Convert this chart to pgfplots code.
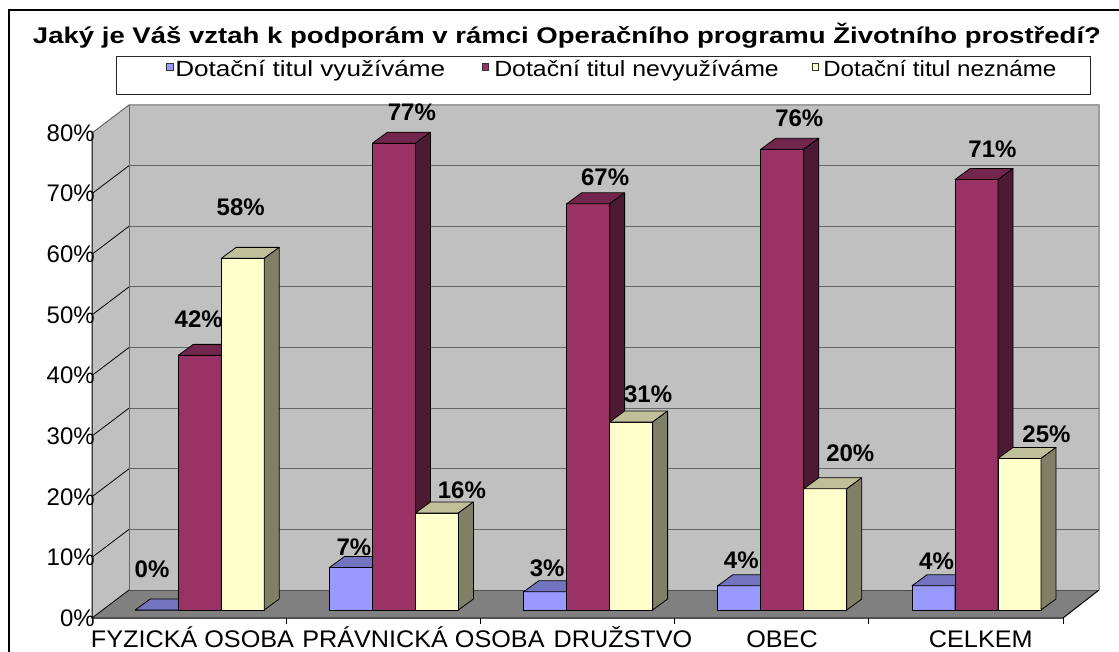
\documentclass[border=0pt]{standalone}
\usepackage{fontspec}
\setmainfont{Liberation Sans}
\usepackage{graphicx}
\usepackage{pgfplots}
\usepackage{pgfplotstable}
\pgfplotsset{compat=1.18}

\definecolor{bluefront}{HTML}{9999FF}
\definecolor{bluetop}{HTML}{7373BF}
\definecolor{blueside}{HTML}{4D4D80}
\definecolor{redfront}{HTML}{993366}
\definecolor{redtop}{HTML}{73264D}
\definecolor{redside}{HTML}{4D1A33}
\definecolor{yelfront}{HTML}{FFFFCC}
\definecolor{yeltop}{HTML}{BFBF99}
\definecolor{yelside}{HTML}{808066}
\definecolor{wallc}{HTML}{C0C0C0}
\definecolor{floorc}{HTML}{808080}
\definecolor{gridc}{HTML}{666666}

% series tables: x = category index, y = value (%), lx/ly = label offset (pt)
\pgfplotstableread{
x y lx ly
0 0 -3.5 30.75
1 7 2.25 15
2 3 1.5 18
3 4 1.5 19.5
4 4 2.25 18.75
}\bluedata
\pgfplotstableread{
x y lx ly
0 42 -0.75 27
1 77 13.5 23.25
2 67 12.75 20.25
3 76 12.75 23.25
4 71 12 22.5
}\reddata
\pgfplotstableread{
x y lx ly
0 58 -1.5 38.25
1 16 18.75 17.25
2 31 12.75 21
3 20 18.75 27
4 25 20.25 18
}\yeldata

% 3-D bar drawn as a plot mark: origin = centre of the top front edge
\newcommand{\declarebar}[4]{%
\pgfdeclareplotmark{#1}{%
  \pgfmathsetmacro\h{\rawy*4.546875}%
  \pgfmathsetmacro\hh{8.25-\h}%
  \pgfsetlinewidth{0.6pt}\pgfsetstrokecolor{black}\pgfsetroundjoin
  \pgfsetfillcolor{#2}%
  \pgfpathrectangle{\pgfpoint{-16.125pt}{-\h pt}}{\pgfpoint{32.25pt}{\h pt}}%
  \pgfusepath{fill,stroke}%
  \pgfsetfillcolor{#3}%
  \pgfpathmoveto{\pgfpoint{-16.125pt}{0pt}}%
  \pgfpathlineto{\pgfpoint{-4.875pt}{8.25pt}}%
  \pgfpathlineto{\pgfpoint{27.375pt}{8.25pt}}%
  \pgfpathlineto{\pgfpoint{16.125pt}{0pt}}%
  \pgfpathclose
  \pgfusepath{fill,stroke}%
  \pgfsetfillcolor{#4}%
  \pgfpathmoveto{\pgfpoint{16.125pt}{0pt}}%
  \pgfpathlineto{\pgfpoint{27.375pt}{8.25pt}}%
  \pgfpathlineto{\pgfpoint{27.375pt}{\hh pt}}%
  \pgfpathlineto{\pgfpoint{16.125pt}{-\h pt}}%
  \pgfpathclose
  \pgfusepath{fill,stroke}%
}}
\declarebar{barblue}{bluefront}{bluetop}{blueside}
\declarebar{barred}{redfront}{redtop}{redside}
\declarebar{baryel}{yelfront}{yeltop}{yelside}

\pgfplotsset{
  bar3d/.style={
    only marks, mark=#1,
    point meta=\thisrow{y},
    visualization depends on={\thisrow{y} \as \rawy},
    visualization depends on={\thisrow{lx} \as \lx},
    visualization depends on={\thisrow{ly} \as \ly},
    nodes near coords={\pgfmathprintnumber{\pgfplotspointmeta}\%},
    every node near coord/.append style={font=\fontsize{18}{20}\selectfont\bfseries,
      anchor=center, inner sep=0pt, xshift=\lx pt, yshift=\ly pt, text=black},
  },
}

\begin{document}
\begin{tikzpicture}
\useasboundingbox (0pt,0pt) rectangle (839.25pt,-489pt);
\fill[white] (0pt,0pt) rectangle (839.25pt,-489pt);
\begin{scope}[x=0.75pt,y=-0.75pt]
  \draw[line width=1.5pt] (8.5,10) rectangle (1135,670);
  \node[anchor=base, inner sep=0pt] at (567,44)
    {\resizebox{801pt}{\height}{\fontsize{17}{18}\selectfont\bfseries Jaký je Váš vztah k podporám v rámci Operačního programu Životního prostředí?}};
  \draw[line width=0.75pt, draw=black!85] (116,57) rectangle (1090,94.5);
  \filldraw[fill=bluefront, draw=black!80, line width=0.6pt] (166.5,63.5) rectangle (173,70.5);
  \filldraw[fill=redfront, draw=black!80, line width=0.6pt] (482,63.5) rectangle (488.5,70.5);
  \filldraw[fill=yelfront, draw=black!80, line width=0.6pt] (812,63.5) rectangle (818.5,70.5);
  \node[anchor=base west, inner sep=0pt] at (175,76.7) {\resizebox{202.5pt}{\height}{\fontsize{16.5}{18}\selectfont Dotační titul využíváme}};
  \node[anchor=base west, inner sep=0pt] at (494,76.7) {\resizebox{213.4pt}{\height}{\fontsize{16.5}{18}\selectfont Dotační titul nevyužíváme}};
  \node[anchor=base west, inner sep=0pt] at (823,76.7) {\resizebox{174.75pt}{\height}{\fontsize{16.5}{18}\selectfont Dotační titul neznáme}};
  % walls and floor of the 3-D plot area
  \fill[wallc] (129,105) rectangle (1099,590);
  \fill[wallc] (92,618) -- (92,133) -- (129,105) -- (129,590) -- cycle;
  \fill[floorc] (92,618) -- (1063,618) -- (1099,590) -- (129,590) -- cycle;
  \foreach \k in {1,...,7} {
    \draw[gridc, line width=0.9pt] (129,{590-60.625*\k}) -- (1099,{590-60.625*\k});
    \draw[black, line width=0.6pt] (92,{618-60.625*\k}) -- (129,{590-60.625*\k});
  }
  \draw[floorc!80!black, line width=0.75pt] (92,133) -- (129,105) -- (1099,105) -- (1099,590);
  \draw[floorc!80!black, line width=0.75pt] (129,105) -- (129,590);
  \draw[black!70, line width=0.6pt] (129,590) -- (1099,590);
  \draw[black, line width=0.75pt] (92,133) -- (92,618) -- (1063,618) -- (1099,590);
  \draw[black, line width=0.6pt] (92,618) -- (129,590);
  \foreach \k in {1,...,5} {
    \draw[black, line width=0.6pt] ({92+194.2*\k},618) -- ({92+194.2*\k},624);
  }
\end{scope}
\begin{axis}[
  at={(76.95pt,-457.5pt)}, anchor=south west,
  scale only axis, width=728.25pt, height=363.75pt,
  xmin=0, xmax=5, ymin=0, ymax=80,
  clip=false,
  axis lines*=left,
  axis line style={draw=none},
  major tick length=0pt,
  ytick={0,10,...,80},
  yticklabels={0\%,10\%,20\%,30\%,40\%,50\%,60\%,70\%,80\%},
  yticklabel style={anchor=east, inner sep=0pt, xshift=-5.7pt, yshift=-6pt, font=\fontsize{18}{20}\selectfont},
  xtick={0.4629,1.6524,2.6797,3.4985,4.5221},
  xticklabels={\scalebox{1.05}[1]{FYZICKÁ OSOBA}, \scalebox{1.05}[1]{PRÁVNICKÁ OSOBA}, \scalebox{1.05}[1]{DRUŽSTVO}, \scalebox{1.05}[1]{OBEC}, \scalebox{1.05}[1]{CELKEM}},
  xticklabel style={anchor=base, inner sep=0pt, yshift=-28.3pt, font=\fontsize{18}{20}\selectfont},
  /pgf/number format/assume math mode=true,
]
\addplot[bar3d=barblue] table[x expr=\thisrow{x}+0.5-0.2214, y=y] {\bluedata};
\addplot[bar3d=barred] table[x expr=\thisrow{x}+0.5, y=y] {\reddata};
\addplot[bar3d=baryel] table[x expr=\thisrow{x}+0.5+0.2214, y=y] {\yeldata};
\end{axis}
\end{tikzpicture}
\end{document}
